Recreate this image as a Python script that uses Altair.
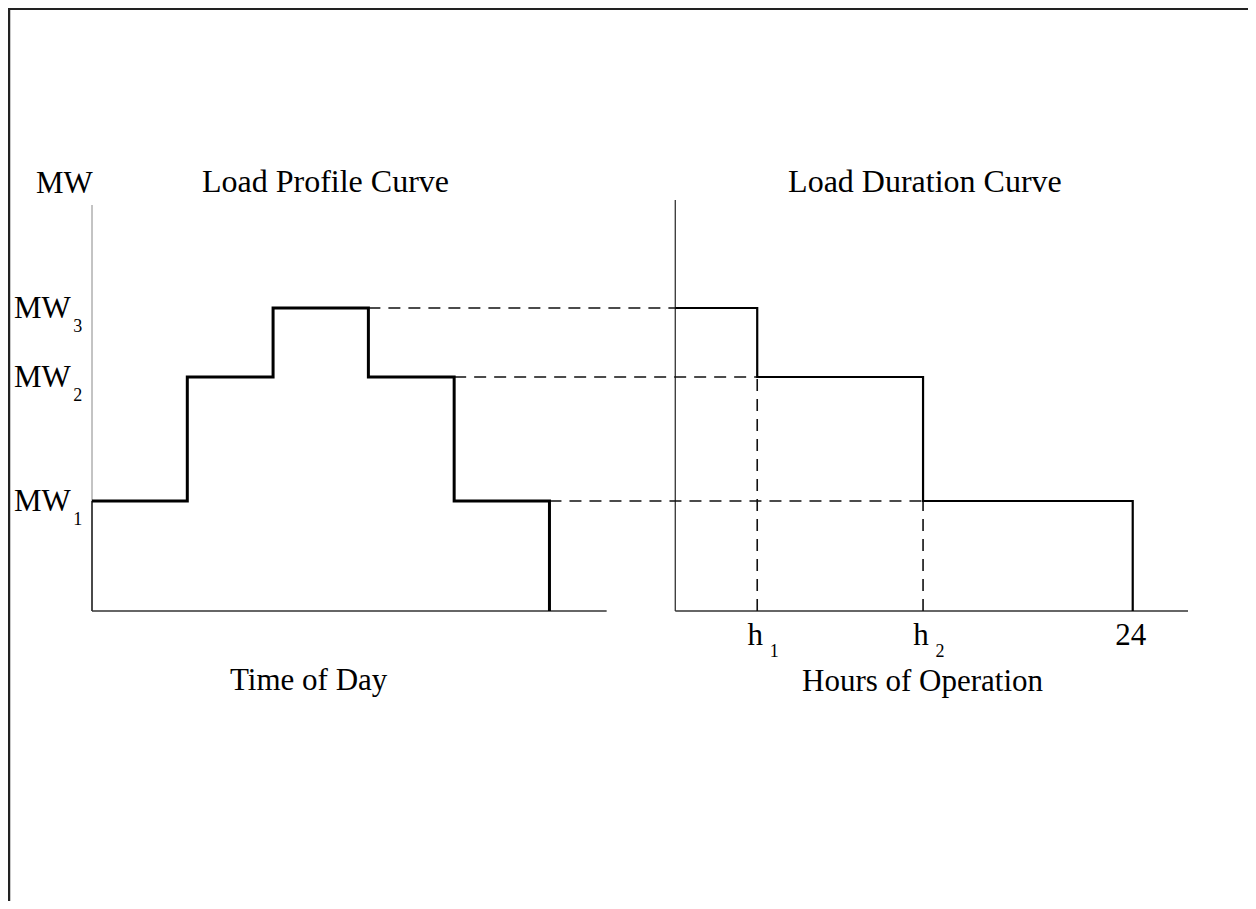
import altair as alt
import pandas as pd

# ---- values ----
MW1, MW2, MW3 = 1.10, 2.34, 3.03          # load levels (arbitrary MW units)
profile_time = [0, 5, 9.5, 14.5, 19, 24]  # time-of-day breakpoints (h)
profile_load = [MW1, MW2, MW3, MW2, MW1, 0]
h1, h2 = 4.3, 13.0                        # hours of operation
duration_hours = [0, h1, h2, 24]
duration_load = [MW3, MW2, MW1, 0]
level_values = [MW3, MW2, MW1]
level_subs = ["3", "2", "1"]
tick_hours = [h1, h2, 24]
tick_main = ["h", "h", "24"]
tick_subs = ["1", "2", ""]

# ---- layout (shared horizontal scale: right panel sits after an offset) ----
PANEL_OFFSET = 30.6
AXIS_LEN = 27.0
FONT = "Liberation Serif"

xs = alt.Scale(domain=[0, PANEL_OFFSET + 26.9], range=[84, 1180], nice=False, zero=False)
ys = alt.Scale(domain=[0, 4], range=[603, 203], nice=False, zero=False)

prof = pd.DataFrame({"x": profile_time, "y": profile_load})
dur = pd.DataFrame({"x": [PANEL_OFFSET + h for h in duration_hours], "y": duration_load})

# dashed projections from the profile corners to the duration curve
dash_h = pd.DataFrame({
    "x": [profile_time[3], profile_time[4], profile_time[5]],
    "x2": [PANEL_OFFSET + 0, PANEL_OFFSET + h1, PANEL_OFFSET + h2],
    "y": [MW3, MW2, MW1],
})
dash_v = pd.DataFrame({"x": [PANEL_OFFSET + h1, PANEL_OFFSET + h2], "y": [0, 0], "y2": [MW2, MW1]})

levels = pd.DataFrame({"y": level_values, "sub": level_subs})
ticks = pd.DataFrame({"x": [PANEL_OFFSET + h for h in tick_hours], "t": tick_main, "sub": tick_subs})

X = lambda f: alt.X(f, type="quantitative", scale=xs, axis=None)
Y = lambda f: alt.Y(f, type="quantitative", scale=ys, axis=None)
one = alt.Data(values=[{}])

def rule_h(x0, x1, y, color, w):
    return alt.Chart(one).mark_rule(color=color, strokeWidth=w).encode(
        x=alt.X(datum=x0, type="quantitative", scale=xs, axis=None),
        x2=alt.datum(x1),
        y=alt.Y(datum=y, type="quantitative", scale=ys, axis=None),
    )

def rule_v(x, y0, y1, color, w):
    return alt.Chart(one).mark_rule(color=color, strokeWidth=w).encode(
        x=alt.X(datum=x, type="quantitative", scale=xs, axis=None),
        y=alt.Y(datum=y0, type="quantitative", scale=ys, axis=None),
        y2=alt.datum(y1),
    )

def label(x, y, text, size, align="left", dy=0):
    return alt.Chart(one).mark_text(
        font=FONT, fontSize=size, align=align, baseline="alphabetic", color="black", dy=dy
    ).encode(
        x=alt.X(datum=x, type="quantitative", scale=xs, axis=None),
        y=alt.Y(datum=y, type="quantitative", scale=ys, axis=None),
        text=alt.value(text),
    )

axes = [
    rule_v(0, 0, 4.06, "#888888", 1),
    rule_v(0, 0, MW1, "#222222", 1.5),
    rule_h(0, AXIS_LEN, 0, "#333333", 1.6),
    rule_v(PANEL_OFFSET, 0, 4.11, "#222222", 1.2),
    rule_h(PANEL_OFFSET, PANEL_OFFSET + 26.9, 0, "#333333", 1.6),
]

dashed_h = alt.Chart(dash_h).mark_rule(color="#111111", strokeWidth=1.6, strokeDash=[12, 8]).encode(
    x=X("x"), x2="x2", y=Y("y"))
dashed_v = alt.Chart(dash_v).mark_rule(color="#111111", strokeWidth=1.6, strokeDash=[12, 8]).encode(
    x=X("x"), y=Y("y"), y2="y2")

profile_line = alt.Chart(prof).mark_line(
    interpolate="step-after", color="black", strokeWidth=3, strokeJoin="miter").encode(x=X("x"), y=Y("y"))
duration_line = alt.Chart(dur).mark_line(
    interpolate="step-after", color="black", strokeWidth=2.2, strokeJoin="miter").encode(x=X("x"), y=Y("y"))

level_mw = alt.Chart(levels).mark_text(
    font=FONT, fontSize=31, align="left", baseline="alphabetic", color="black", dy=10
).encode(x=alt.X(datum=-4.09, type="quantitative", scale=xs, axis=None), y=Y("y"), text=alt.value("MW"))
level_sub = alt.Chart(levels).mark_text(
    font=FONT, fontSize=18, align="left", baseline="alphabetic", color="black", dy=24
).encode(x=alt.X(datum=-0.98, type="quantitative", scale=xs, axis=None), y=Y("y"), text="sub:N")

tick_txt = alt.Chart(ticks).mark_text(
    font=FONT, fontSize=31, align="center", baseline="alphabetic", color="black", dx=-2, dy=34
).encode(x=X("x"), y=alt.Y(datum=0, type="quantitative", scale=ys, axis=None), text="t:N")
tick_sub = alt.Chart(ticks).mark_text(
    font=FONT, fontSize=18, align="center", baseline="alphabetic", color="black", dx=17, dy=46
).encode(x=X("x"), y=alt.Y(datum=0, type="quantitative", scale=ys, axis=None), text="sub:N")

texts = [
    label(-2.94, 4.18, "MW", 31),
    label(5.77, 4.19, "Load Profile Curve", 32),
    label(PANEL_OFFSET + 5.92, 4.19, "Load Duration Curve", 32),
    label(7.24, 0, "Time of Day", 31, dy=79),
    label(PANEL_OFFSET + 6.65, 0, "Hours of Operation", 31, dy=80),
]

border_top = alt.Chart(one).mark_rule(color="#222222", strokeWidth=2).encode(
    x=alt.value(0), x2=alt.value(1240), y=alt.value(1))
border_left = alt.Chart(one).mark_rule(color="#222222", strokeWidth=2.5).encode(
    x=alt.value(1), y=alt.value(0), y2=alt.value(893))

chart = alt.layer(
    border_top, border_left, *axes, dashed_h, dashed_v, profile_line, duration_line,
    level_mw, level_sub, tick_txt, tick_sub, *texts
).properties(
    width=1240, height=893, padding=0, autosize=alt.AutoSizeParams(type="none"), background="white"
).configure_view(stroke=None)

chart.save("out.html", embed_options={"renderer": "svg", "actions": False})
